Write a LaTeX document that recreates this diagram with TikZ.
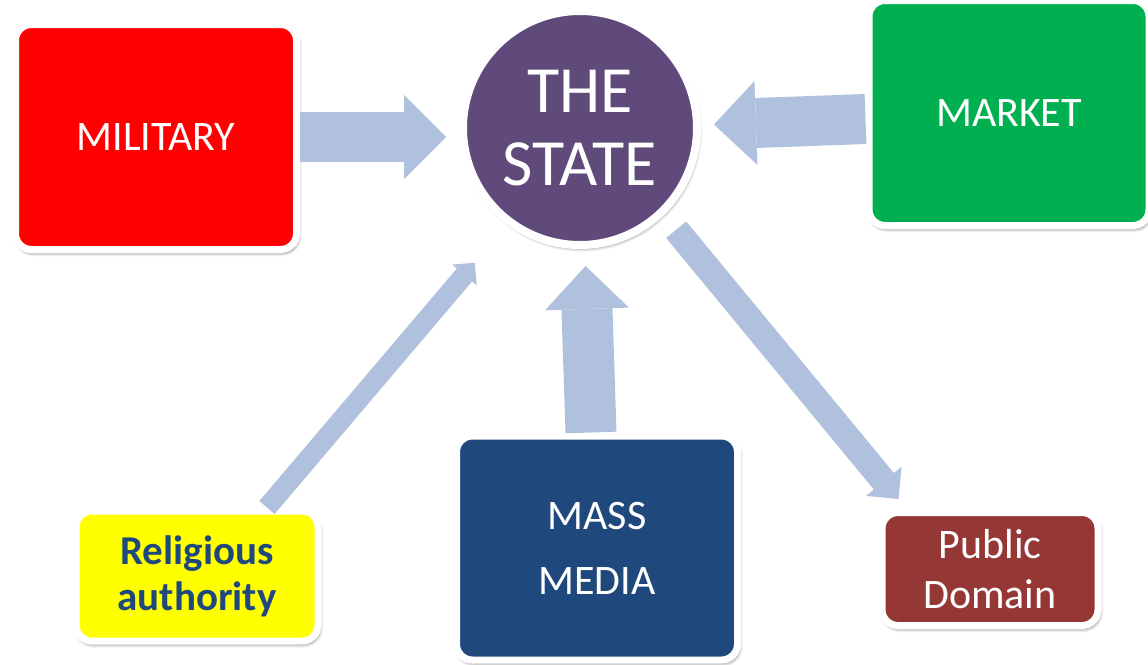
\documentclass[tikz,border=0pt]{standalone}
\usepackage{fontspec}
\setmainfont{Carlito}
\usetikzlibrary{arrows.meta,shadows.blur}
\definecolor{Military}{RGB}{255,0,0}
\definecolor{State}{RGB}{96,74,123}
\definecolor{Market}{RGB}{0,176,80}
\definecolor{Religion}{RGB}{255,255,0}
\definecolor{Media}{RGB}{31,73,125}
\definecolor{Public}{RGB}{149,55,53}
\definecolor{Flow}{RGB}{176,193,221}

\begin{document}
\begin{tikzpicture}[x=1pt,y=-1pt,
        soft/.style={blur shadow={shadow xshift=1.5pt, shadow yshift=-3pt, shadow blur radius=4pt,
            shadow blur steps=6, shadow opacity=60}},
        box/.style={draw=white, line width=7pt, rounded corners=16pt, inner sep=0pt,
            align=center, text=white, font=\fontsize{42}{50}\selectfont, soft},
        flowarrow/.style n args={3}{draw=Flow, line width=#1,
            -{Triangle[width=#2, length=#3, line width=0pt]}}]

        \useasboundingbox (0,0) rectangle (1148,664);

        % The five boxes round the state
        \node[box, fill=Military, minimum width=281pt, minimum height=225pt] (military) at (156,137) {MILITARY};
        \node[box, fill=Market, minimum width=280pt, minimum height=225pt] (market) at (1009,113) {MARKET};
        \node[box, fill=Religion, text=Media, font=\bfseries\fontsize{41}{46}\selectfont,
            minimum width=242pt, minimum height=130pt] (relig) at (197,576) {Religious\\authority};
        \node[box, fill=Media, font=\fontsize{42}{65}\selectfont,
            minimum width=281pt, minimum height=224pt] (media) at (597,548) {MASS\\MEDIA};
        \node[box, fill=Public, minimum width=216pt, minimum height=113pt] (public) at (990,569) {Public\\Domain};

        % The state in the middle
        \node[circle, draw=white, line width=8pt, fill=State, minimum size=234pt, inner sep=0pt,
            align=center, text=white, font=\fontsize{66}{73}\selectfont, soft] (state) at (580,128) {THE\\STATE};

        % Arrows
        \coordinate (pubtip) at ([xshift=20pt,yshift=10pt]public.north west);
        \draw[flowarrow={50pt}{84pt}{42pt}, shorten >=13pt] (military.east) -- (military.east -| state.west);
        \draw[flowarrow={50pt}{84pt}{42pt}, shorten >=13pt] ([yshift=-6pt]market.west) -- ([yshift=3pt]state.east);
        \draw[flowarrow={51pt}{84pt}{43pt}, shorten >=17pt] ([xshift=-6pt]media.north) -- ([xshift=5pt]state.south);
        \draw[flowarrow={20pt}{32pt}{16pt}, shorten >=50pt] ([xshift=70pt]relig.north) -- (state.233);
        \draw[flowarrow={26pt}{46pt}{23pt}, shorten <=19pt] (state.314) -- (pubtip);
    \end{tikzpicture}
\end{document}
